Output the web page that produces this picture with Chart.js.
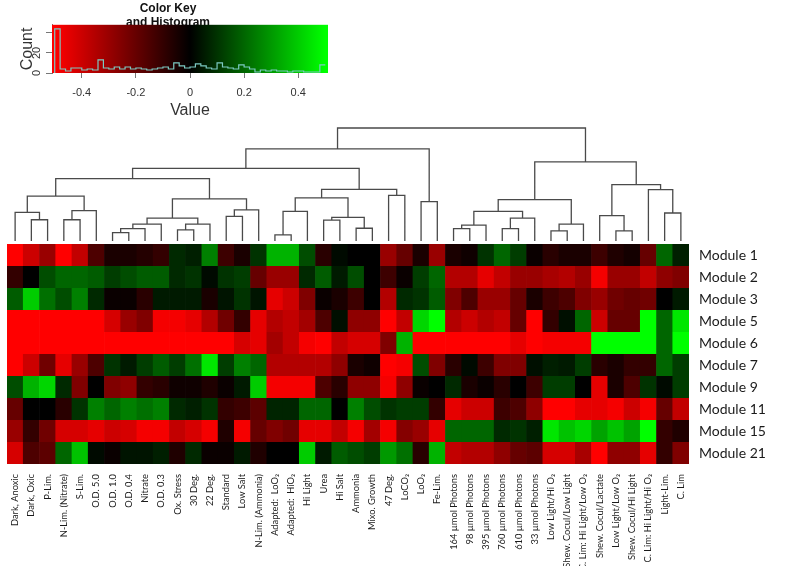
<!DOCTYPE html>
<html>
<head>
<meta charset="utf-8">
<script src="https://cdn.jsdelivr.net/npm/chart.js@4.4.1/dist/chart.umd.min.js"></script>
<style>
  body { margin: 0; background: #fff; }
  #wrap { position: relative; width: 796px; height: 566px; }
  #main, #key { position: absolute; left: 0; top: 0; }
</style>
</head>
<body>
<div id="wrap">
  <canvas id="main" width="796" height="566"></canvas>
  <canvas id="key" width="360" height="120"></canvas>
</div>
<script>
// conditions (columns), in dendrogram order
const conditions = ['Dark, Anoxic', 'Dark, Oxic', 'P-Lim.', 'N-Lim. (Nitrate)', 'S-Lim.', 'O.D. 5.0', 'O.D. 1.0', 'O.D. 0.4',
  'Nitrate', 'O.D. 0.3', 'Ox. Stress', '30 Deg.', '22 Deg.', 'Standard', 'Low Salt', 'N-Lim. (Ammonia)',
  'Adapted:  LoO\u2082', 'Adapted:  HiO\u2082', 'Hi Light', 'Urea', 'Hi Salt', 'Ammonia', 'Mixo. Growth', '47 Deg.',
  'LoCO\u2082', 'LoO\u2082', 'Fe-Lim.', '164 \u00b5mol Photons', '98 \u00b5mol Photons', '395 \u00b5mol Photons',
  '760 \u00b5mol Photons', '610 \u00b5mol Photons', '33 \u00b5mol Photons', 'Low Light/Hi O\u2082',
  'Shew. Cocul/Low Light', 'C. Lim: Hi Light/Low O\u2082', 'Shew. Cocul/Lactate', 'Low Light/Low O\u2082',
  'Shew. Cocul/Hi Light', 'C. Lim: Hi Light/Hi O\u2082', 'Light-Lim.', 'C. Lim'];

const modules = ['Module 1', 'Module 2', 'Module 3', 'Module 5', 'Module 6', 'Module 7', 'Module 9', 'Module 11', 'Module 15', 'Module 21'];

const mod1 = [-0.5, -0.4, -0.3, -0.5, -0.38, -0.15, -0.05, -0.05, -0.07, -0.1, 0.08, 0.06, 0.25, -0.12, -0.05, 0.1, 0.35, 0.35, 0.15, -0.08, 0.02,
  0, 0, -0.3, -0.2, -0.05, -0.3, -0.05, -0.03, 0.1, 0.2, 0.12, -0.02, -0.08, -0.05, -0.05, -0.12, -0.06, -0.04, -0.2, 0.2, 0.06];
const mod2 = [-0.1, 0, 0.15, 0.2, 0.2, 0.18, 0.12, 0.15, 0.18, 0.18, 0.08, 0.1, 0.02, 0.1, 0.12, -0.2, -0.3, -0.3, 0.08, 0.18, 0.05,
  0.15, 0, -0.12, -0.02, 0.12, 0.2, -0.35, -0.35, -0.45, -0.38, -0.3, -0.3, -0.33, -0.35, -0.3, -0.48, -0.3, -0.3, -0.38, -0.28, -0.25];
const mod3 = [0.18, 0.4, 0.22, 0.15, 0.25, 0.08, -0.02, -0.02, -0.08, 0.05, 0.05, 0.05, -0.05, 0.04, 0.1, 0.04, -0.45, -0.4, -0.25, -0.02, -0.05,
  -0.12, 0, -0.35, 0.08, 0.1, 0.18, -0.25, -0.15, -0.3, -0.3, -0.2, -0.05, -0.12, -0.15, -0.25, -0.3, -0.22, -0.2, -0.22, 0, 0.05];
const mod5 = [-0.5, -0.5, -0.5, -0.5, -0.5, -0.5, -0.42, -0.3, -0.25, -0.48, -0.48, -0.45, -0.35, -0.22, -0.1, -0.45, -0.35, -0.38, -0.32, -0.15, 0.03,
  -0.28, -0.28, -0.5, -0.38, 0.42, 0.5, -0.35, -0.4, -0.35, -0.38, -0.2, -0.5, -0.1, 0.03, 0.2, -0.4, -0.2, -0.2, 0.5, 0.2, 0.45];
const mod6 = [-0.5, -0.5, -0.5, -0.5, -0.5, -0.5, -0.5, -0.5, -0.5, -0.5, -0.5, -0.5, -0.5, -0.5, -0.42, -0.45, -0.32, -0.38, -0.48, -0.5, -0.38,
  -0.42, -0.42, -0.25, 0.35, -0.5, -0.5, -0.5, -0.5, -0.5, -0.5, -0.45, -0.5, -0.48, -0.48, -0.48, 0.5, 0.5, 0.5, 0.5, 0.2, 0.5];
const mod7 = [-0.5, -0.4, -0.22, -0.45, -0.3, -0.15, 0.1, 0.05, 0.12, 0.18, 0.12, 0.22, 0.45, 0.12, 0.25, 0.2, -0.35, -0.35, -0.35, -0.35, -0.28,
  -0.05, -0.03, -0.5, -0.48, 0.15, -0.25, -0.08, 0.02, -0.12, -0.25, -0.25, 0.03, 0.06, 0.05, 0.12, -0.08, -0.05, -0.1, -0.1, 0.2, 0.12];
const mod9 = [0.15, 0.35, 0.42, 0.08, -0.25, 0, -0.25, -0.28, -0.1, -0.08, -0.03, -0.03, -0.06, -0.02, 0.05, 0.4, -0.48, -0.48, -0.48, -0.15, -0.08,
  -0.28, -0.28, -0.48, -0.28, -0.02, 0, 0.08, -0.05, -0.02, -0.08, 0, -0.12, 0.12, 0.12, 0, -0.45, -0.05, -0.15, 0.1, 0.02, 0.12];
const mod11 = [-0.2, 0, 0, -0.08, 0.1, 0.25, 0.2, 0.25, 0.22, 0.25, 0.08, 0.06, 0.1, -0.1, -0.12, -0.18, 0.07, 0.07, 0.2, 0.2, 0,
  0.25, 0.15, 0.1, 0.12, 0.12, -0.1, -0.45, -0.4, -0.4, -0.12, -0.15, -0.28, -0.5, -0.5, -0.45, -0.45, -0.48, -0.4, -0.48, -0.2, -0.38];
const mod15 = [-0.3, -0.1, -0.22, -0.42, -0.42, -0.45, -0.4, -0.42, -0.48, -0.48, -0.38, -0.42, -0.48, -0.06, -0.48, -0.2, -0.25, -0.22, -0.45, -0.45, -0.38,
  -0.48, -0.32, -0.48, -0.26, -0.3, -0.45, 0.2, 0.2, 0.2, 0.08, 0.1, 0.06, 0.45, 0.38, 0.42, 0.32, 0.38, 0.32, 0.5, -0.1, -0.06];
const mod21 = [-0.42, -0.15, -0.18, 0.2, 0.38, 0.02, -0.02, 0.04, 0.04, 0.06, -0.06, 0.08, -0.02, -0.02, 0.05, -0.06, 0, 0, 0.4, 0.05, 0.18,
  0.15, 0.12, 0.3, 0.22, -0.08, 0.35, -0.38, -0.35, -0.35, -0.28, -0.2, -0.18, -0.42, -0.42, -0.33, -0.5, -0.28, -0.28, -0.45, -0.1, -0.25];
const values = [mod1, mod2, mod3, mod5, mod6, mod7, mod9, mod11, mod15, mod21];

// column dendrogram, hclust style: negative = leaf (column index + 1), positive = earlier merge
const merges = [[-2, -3], [-1, 1], [-4, -5], [3, -6], [2, 4], [-7, -8], [6, -9], [7, -10], [-11, -12], [9, -13],
  [8, 10], [-14, -15], [12, -16], [11, 13], [5, 14], [-17, -18], [16, -19], [-20, -21], [-22, -23], [18, 19],
  [17, 20], [-24, -25], [21, 22], [15, 23], [-26, -27], [24, 25], [-28, -29], [27, -30], [-31, -32], [29, -33],
  [28, 30], [-34, -35], [32, -36], [31, 33], [-38, -39], [-37, 35], [-41, -42], [-40, 37], [36, 38], [34, 39], [26, 40]];
const mergeHeight = [0.188, 0.254, 0.188, 0.269, 0.397, 0.075, 0.110, 0.149, 0.099, 0.149,
  0.203, 0.218, 0.275, 0.373, 0.552, 0.054, 0.263, 0.185, 0.113, 0.209,
  0.382, 0.403, 0.457, 0.642, 0.349, 0.815, 0.110, 0.140, 0.110, 0.203,
  0.263, 0.090, 0.149, 0.367, 0.090, 0.224, 0.248, 0.454, 0.499, 0.701, 1.0];

// colour key histogram: 50 bins of 0.02 from -0.5
const histStart = -0.5, histStep = 0.02;
const histCounts = [44, 4, 2, 5, 5, 3, 4, 3, 13, 5, 4, 6, 4, 6, 4, 5, 4, 3, 4, 5, 6, 4, 10, 7, 5, 6, 9, 7, 5, 4,
  10, 6, 5, 4, 8, 6, 4, 1, 3, 2, 3, 2, 2, 1, 2, 2, 1, 1, 1, 8];
const keyTicks = [-0.4, -0.2, 0, 0.2, 0.4];
const countTicks = [0, 10, 20, 30, 40];

const cellColor = (v) => {
  const t = Math.max(-1, Math.min(1, v / 0.5));
  return t < 0 ? 'rgb(' + Math.round(-t * 255) + ',0,0)' : 'rgb(0,' + Math.round(t * 255) + ',0)';
};

const dendroPoints = () => {
  const pos = [], pts = [];
  const xOf = (id) => id < 0 ? -id - 1 : pos[id - 1];
  const hOf = (id) => id < 0 ? 0 : mergeHeight[id - 1];
  merges.forEach(([a, b], k) => {
    const xa = xOf(a), xb = xOf(b), h = mergeHeight[k];
    pos.push((xa + xb) / 2);
    pts.push({x: xa, y: hOf(a)}, {x: xa, y: h}, {x: xb, y: h}, {x: xb, y: hOf(b)}, {x: xb, y: null});
  });
  return pts;
};

const labelFont = 'Lato';
const nRows = modules.length;

const heatSets = modules.map((name, i) => ({
  type: 'bar',
  label: name,
  data: conditions.map(() => [nRows - 1 - i, nRows - i]),
  backgroundColor: values[i].map(cellColor),
  borderWidth: 0,
  grouped: false,
  barPercentage: 1.04,
  categoryPercentage: 1,
  xAxisID: 'x',
  yAxisID: 'y'
}));

const dendroSet = {
  type: 'line',
  label: 'dendrogram',
  data: dendroPoints(),
  borderColor: '#4a4a4a',
  borderWidth: 1.3,
  pointRadius: 0,
  spanGaps: false,
  tension: 0,
  xAxisID: 'xd',
  yAxisID: 'yd'
};

new Chart(document.getElementById('main'), {
  type: 'bar',
  data: {labels: conditions, datasets: heatSets.concat([dendroSet])},
  options: {
    responsive: false,
    animation: false,
    events: [],
    layout: {padding: {left: 7, top: 126, right: 0, bottom: 0}},
    plugins: {legend: {display: false}, tooltip: {enabled: false}, title: {display: false}},
    scales: {
      x: {
        grid: {display: false, drawTicks: false},
        border: {display: false},
        ticks: {
          autoSkip: false, minRotation: 90, maxRotation: 90, padding: 10,
          color: '#1a1a1a', font: {family: labelFont, size: 9.3}
        },
        afterFit: (s) => { s.height = 102; }
      },
      xd: {type: 'linear', display: false, min: -0.5, max: 41.5, offset: false},
      y: {
        position: 'right',
        min: 0, max: 338 / 22,
        grid: {display: false, drawTicks: false},
        border: {display: false},
        afterBuildTicks: (s) => { s.ticks = modules.map((m, i) => ({value: nRows - 1 - i + 0.5})); },
        ticks: {
          padding: 10, color: '#1a1a1a', font: {family: labelFont, size: 14},
          callback: (v) => modules[Math.round(nRows - 0.5 - v)]
        },
        afterFit: (s) => { s.width = 107; }
      },
      yd: {type: 'linear', display: false, position: 'left', min: -223 / 113, max: 1 + 2 / 113}
    }
  }
});

// colour key with histogram
const keyGradient = {
  id: 'keyGradient',
  beforeDatasetsDraw(chart) {
    const {ctx, chartArea: a, scales: {x}} = chart;
    const x0 = x.getPixelForValue(-0.5), x1 = x.getPixelForValue(0.5);
    const g = ctx.createLinearGradient(x0, 0, x1, 0);
    g.addColorStop(0, '#ff0000');
    g.addColorStop(0.5, '#000000');
    g.addColorStop(1, '#00ff00');
    ctx.save();
    ctx.fillStyle = g;
    ctx.fillRect(a.left, a.top, a.right - a.left, a.bottom - a.top);
    ctx.restore();
  }
};

const histPoints = [{x: histStart, y: 0}]
  .concat(histCounts.map((c, i) => ({x: histStart + i * histStep, y: c})))
  .concat([{x: histStart + histCounts.length * histStep, y: histCounts[histCounts.length - 1]}]);

new Chart(document.getElementById('key'), {
  type: 'line',
  data: {datasets: [{
    data: histPoints,
    stepped: 'before',
    borderColor: '#7cc9c2',
    borderWidth: 1.2,
    pointRadius: 0
  }]},
  options: {
    responsive: false,
    animation: false,
    events: [],
    layout: {padding: {left: 8, right: 32, top: 0, bottom: 0}},
    plugins: {
      legend: {display: false},
      tooltip: {enabled: false},
      title: {
        display: true, text: ['Color Key', 'and Histogram'], color: '#111',
        font: {family: 'Liberation Sans', size: 12, weight: 'bold', lineHeight: 1.2},
        padding: {top: 1, bottom: -5}
      }
    },
    scales: {
      x: {
        type: 'linear', min: -0.51, max: 0.51,
        afterBuildTicks: (s) => { s.ticks = keyTicks.map((v) => ({value: v})); },
        grid: {drawOnChartArea: false, tickLength: 5, color: '#777'},
        border: {display: false},
        ticks: {padding: 8, color: '#333', font: {family: 'Liberation Sans', size: 11},
          callback: (v) => String(v)},
        title: {display: true, text: 'Value', color: '#333', font: {family: 'Liberation Sans', size: 16}, padding: 0},
        afterFit: (s) => { s.height = 47; }
      },
      y: {
        min: 0, max: 48,
        afterBuildTicks: (s) => { s.ticks = countTicks.map((v) => ({value: v})); },
        grid: {drawOnChartArea: false, tickLength: 6, color: '#777'},
        border: {color: '#777'},
        ticks: {minRotation: 90, maxRotation: 90, crossAlign: 'center', padding: 3, color: '#333',
          font: {family: 'Liberation Sans', size: 11},
          callback: (v) => (v === 0 || v === 20) ? String(v) : ''},
        title: {display: true, text: 'Count', color: '#333', font: {family: 'Liberation Sans', size: 16}, padding: {top: 10}},
        afterFit: (s) => { s.width = 44; }
      }
    }
  },
  plugins: [keyGradient]
});
</script>
</body>
</html>
